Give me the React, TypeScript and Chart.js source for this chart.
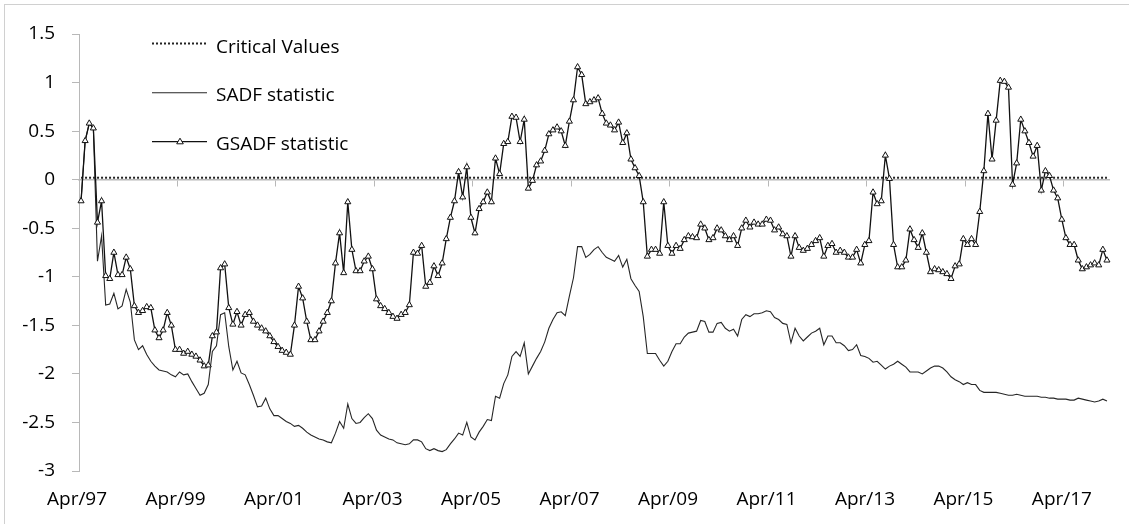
import React, { useEffect, useRef } from "react";
import { Chart, registerables } from "chart.js";

Chart.register(...registerables);

// ---------- categories (monthly, Apr/97 .. Feb/18) ----------
const MONTH_NAMES = ["Jan", "Feb", "Mar", "Apr", "May", "Jun", "Jul", "Aug", "Sep", "Oct", "Nov", "Dec"];
const FIRST_YEAR = 1997;
const FIRST_MONTH = 3; // April
const MONTH_COUNT = 251;
const categories: string[] = Array.from({ length: MONTH_COUNT }, (_, i) => {
  const m = FIRST_MONTH + i;
  const y = FIRST_YEAR + Math.floor(m / 12);
  return `${MONTH_NAMES[m % 12]}/${String(y % 100).padStart(2, "0")}`;
});
const LABEL_EVERY = 24;

// ---------- y axis ----------
const Y_MIN = -3;
const Y_MAX = 1.5;
const Y_STEP = 0.5;

// ---------- series ----------
const gsadf: number[] = [
  -0.22, 0.40, 0.58, 0.53, -0.44, -0.22, -0.99, -1.02, -0.75, -0.98,
  -0.98, -0.80, -0.92, -1.30, -1.37, -1.35, -1.31, -1.32, -1.55, -1.63,
  -1.55, -1.37, -1.50, -1.75, -1.75, -1.79, -1.77, -1.80, -1.82, -1.86,
  -1.92, -1.91, -1.61, -1.57, -0.91, -0.87, -1.32, -1.49, -1.36, -1.50,
  -1.39, -1.37, -1.46, -1.50, -1.53, -1.56, -1.61, -1.67, -1.72, -1.76,
  -1.78, -1.80, -1.50, -1.10, -1.22, -1.46, -1.65, -1.65, -1.56, -1.46,
  -1.37, -1.25, -0.86, -0.55, -0.96, -0.23, -0.72, -0.94, -0.94, -0.84,
  -0.79, -0.92, -1.23, -1.30, -1.33, -1.37, -1.41, -1.43, -1.39, -1.37,
  -1.29, -0.75, -0.76, -0.68, -1.10, -1.06, -0.89, -0.99, -0.86, -0.61,
  -0.39, -0.22, 0.08, -0.18, 0.13, -0.39, -0.55, -0.30, -0.23, -0.13,
  -0.23, 0.22, 0.06, 0.37, 0.39, 0.65, 0.64, 0.39, 0.62, -0.09,
  -0.01, 0.15, 0.19, 0.30, 0.47, 0.51, 0.54, 0.50, 0.35, 0.60,
  0.82, 1.16, 1.08, 0.78, 0.80, 0.82, 0.84, 0.68, 0.58, 0.56,
  0.51, 0.59, 0.38, 0.48, 0.21, 0.12, 0.04, -0.23, -0.79, -0.72,
  -0.72, -0.76, -0.23, -0.68, -0.76, -0.68, -0.71, -0.62, -0.58, -0.59,
  -0.60, -0.46, -0.50, -0.62, -0.60, -0.50, -0.52, -0.58, -0.62, -0.58,
  -0.68, -0.50, -0.42, -0.49, -0.44, -0.46, -0.46, -0.41, -0.42, -0.52,
  -0.49, -0.56, -0.58, -0.79, -0.58, -0.70, -0.73, -0.71, -0.67, -0.63,
  -0.60, -0.79, -0.68, -0.66, -0.75, -0.73, -0.75, -0.80, -0.80, -0.72,
  -0.86, -0.67, -0.63, -0.13, -0.25, -0.22, 0.25, 0.01, -0.67, -0.90,
  -0.90, -0.83, -0.51, -0.62, -0.70, -0.55, -0.75, -0.95, -0.92, -0.93,
  -0.95, -0.97, -1.02, -0.89, -0.87, -0.61, -0.67, -0.61, -0.67, -0.33,
  0.09, 0.68, 0.21, 0.61, 1.02, 1.01, 0.95, -0.05, 0.17, 0.62,
  0.50, 0.38, 0.24, 0.35, -0.11, 0.09, 0.04, -0.11, -0.19, -0.41,
  -0.60, -0.67, -0.67, -0.83, -0.92, -0.90, -0.88, -0.86, -0.88, -0.72,
  -0.83,
];

const sadf: number[] = [
  -0.22, 0.40, 0.58, 0.53, -0.84, -0.58, -1.29, -1.28, -1.17, -1.33,
  -1.30, -1.13, -1.26, -1.65, -1.75, -1.71, -1.80, -1.87, -1.92, -1.96,
  -1.97, -1.98, -2.01, -2.03, -1.98, -2.01, -2.00, -2.08, -2.15, -2.22,
  -2.20, -2.11, -1.77, -1.71, -1.39, -1.37, -1.72, -1.96, -1.87, -1.99,
  -2.01, -2.11, -2.22, -2.34, -2.33, -2.25, -2.36, -2.43, -2.43, -2.46,
  -2.49, -2.51, -2.54, -2.53, -2.56, -2.60, -2.63, -2.65, -2.67, -2.68,
  -2.70, -2.71, -2.61, -2.49, -2.56, -2.31, -2.46, -2.51, -2.50, -2.45,
  -2.41, -2.46, -2.58, -2.63, -2.65, -2.67, -2.68, -2.71, -2.72, -2.73,
  -2.72, -2.68, -2.68, -2.70, -2.77, -2.79, -2.77, -2.79, -2.80, -2.78,
  -2.72, -2.67, -2.61, -2.63, -2.50, -2.65, -2.68, -2.60, -2.54, -2.47,
  -2.48, -2.23, -2.25, -2.10, -2.01, -1.82, -1.77, -1.82, -1.68, -2.00,
  -1.92, -1.84, -1.77, -1.67, -1.53, -1.44, -1.37, -1.36, -1.40, -1.20,
  -1.01, -0.69, -0.69, -0.80, -0.77, -0.72, -0.69, -0.75, -0.80, -0.82,
  -0.84, -0.78, -0.90, -0.82, -1.02, -1.09, -1.15, -1.41, -1.79, -1.79,
  -1.79, -1.86, -1.92, -1.87, -1.77, -1.69, -1.69, -1.62, -1.58, -1.57,
  -1.56, -1.45, -1.46, -1.57, -1.57, -1.48, -1.47, -1.53, -1.56, -1.54,
  -1.61, -1.44, -1.39, -1.41, -1.38, -1.38, -1.37, -1.35, -1.36, -1.42,
  -1.44, -1.48, -1.49, -1.68, -1.53, -1.61, -1.66, -1.62, -1.58, -1.56,
  -1.53, -1.70, -1.61, -1.61, -1.68, -1.68, -1.71, -1.76, -1.75, -1.70,
  -1.81, -1.82, -1.84, -1.88, -1.87, -1.91, -1.95, -1.92, -1.90, -1.87,
  -1.90, -1.93, -1.98, -1.98, -1.98, -2.00, -1.97, -1.94, -1.92, -1.92,
  -1.94, -1.98, -2.03, -2.06, -2.08, -2.11, -2.09, -2.11, -2.11, -2.17,
  -2.19, -2.19, -2.19, -2.19, -2.20, -2.21, -2.22, -2.22, -2.21, -2.22,
  -2.23, -2.23, -2.23, -2.23, -2.24, -2.24, -2.25, -2.25, -2.26, -2.26,
  -2.26, -2.27, -2.27, -2.25, -2.26, -2.27, -2.28, -2.29, -2.28, -2.26,
  -2.28,
];

// critical value line: flat, read at the first and the last month
const criticalValues: number[] = [0.02, 0.02];

const FONT_FAMILY = "'Open Sans', 'DejaVu Sans', sans-serif";
const FONT_SIZE = 19;
const AXIS_GREY = "#b8b8b8";

export default function App() {
  const canvasRef = useRef<HTMLCanvasElement | null>(null);

  useEffect(() => {
    const canvas = canvasRef.current;
    if (!canvas) return;
    const first = categories[0];
    const last = categories[categories.length - 1];

    const chart = new Chart(canvas, {
      type: "line",
      data: {
        labels: categories,
        datasets: [
          {
            label: "GSADF statistic",
            data: gsadf,
            borderColor: "#111111",
            borderWidth: 1.3,
            pointStyle: "triangle",
            pointRadius: 3.5,
            pointBackgroundColor: "#ffffff",
            pointBorderColor: "#111111",
            pointBorderWidth: 1,
            tension: 0,
            xAxisID: "x",
            yAxisID: "y",
          },
          {
            label: "Critical Values",
            data: [
              { x: first, y: criticalValues[0] },
              { x: last, y: criticalValues[1] },
            ] as any,
            borderColor: "#222222",
            borderWidth: 2,
            borderDash: [2, 2],
            borderCapStyle: "butt",
            pointRadius: 0,
            tension: 0,
            xAxisID: "x",
            yAxisID: "y",
          },
          {
            label: "SADF statistic",
            data: sadf,
            borderColor: "#262626",
            borderWidth: 1.1,
            pointRadius: 0,
            tension: 0,
            xAxisID: "x",
            yAxisID: "y",
          },
        ],
      },
      options: {
        responsive: false,
        animation: false,
        events: [],
        devicePixelRatio: 1,
        layout: { padding: { left: 0, right: 20, top: 34, bottom: 0 } },
        plugins: {
          legend: { display: false },
          tooltip: { enabled: false },
        },
        scales: {
          y: {
            type: "linear",
            position: "left",
            min: Y_MIN,
            max: Y_MAX,
            afterFit: (s: any) => {
              s.width = 79;
            },
            ticks: {
              stepSize: Y_STEP,
              padding: 17,
              color: "#000000",
              font: { family: FONT_FAMILY, size: FONT_SIZE },
              callback: (v: any) => String(Math.round(Number(v) * 10) / 10),
            },
            grid: {
              drawOnChartArea: false,
              drawTicks: true,
              tickLength: 7,
              color: AXIS_GREY,
            },
            border: { display: true, color: AXIS_GREY, width: 1 },
          },
          x: {
            type: "category",
            position: { y: 0 } as any,
            offset: true,
            afterFit: (s: any) => {
              s.height = 0;
            },
            ticks: { display: false, autoSkip: false },
            grid: {
              offset: true,
              drawOnChartArea: false,
              drawTicks: true,
              tickLength: 6,
              color: (ctx: any) => (ctx.index % LABEL_EVERY === 0 ? AXIS_GREY : "rgba(0,0,0,0)"),
            },
            border: { display: true, color: AXIS_GREY, width: 1.5 },
          },
          x2: {
            type: "category",
            axis: "x",
            position: "bottom",
            offset: true,
            afterFit: (s: any) => {
              s.height = 53;
            },
            ticks: {
              autoSkip: false,
              maxRotation: 0,
              minRotation: 0,
              padding: 17,
              labelOffset: -4,
              color: "#000000",
              font: { family: FONT_FAMILY, size: FONT_SIZE },
              callback: (_v: any, i: number) => (i % LABEL_EVERY === 0 ? categories[i] : ""),
            },
            grid: { display: false, drawTicks: false },
            border: { display: false },
          },
        },
      } as any,
    });

    return () => {
      chart.destroy();
    };
  }, []);

  const textStyle: React.CSSProperties = {
    position: "absolute",
    left: 216,
    fontFamily: FONT_FAMILY,
    fontSize: FONT_SIZE,
    lineHeight: "20px",
    color: "#000",
    whiteSpace: "nowrap",
  };

  return (
    <div
      style={{
        position: "fixed",
        left: 0,
        top: 0,
        width: 1129,
        height: 524,
        background: "#ffffff",
        overflow: "hidden",
      }}
    >
      <div
        style={{
          position: "absolute",
          left: 4,
          top: 4,
          right: 0,
          bottom: 0,
          borderLeft: "1px solid #d0d0d0",
          borderTop: "1px solid #d0d0d0",
        }}
      />
      <canvas
        ref={canvasRef}
        width={1129}
        height={524}
        style={{ position: "absolute", left: 0, top: 0, width: 1129, height: 524 }}
      />
      <svg
        width={70}
        height={130}
        style={{ position: "absolute", left: 145, top: 30 }}
      >
        <line x1={7} x2={62} y1={13.5} y2={13.5} stroke="#222" strokeWidth={2} strokeDasharray="2 2" />
        <line x1={7} x2={62} y1={62.7} y2={62.7} stroke="#262626" strokeWidth={1.1} />
        <line x1={7} x2={62} y1={111.7} y2={111.7} stroke="#111" strokeWidth={1.3} />
        <polygon points="35,108.2 38.3,113.8 31.7,113.8" fill="#fff" stroke="#111" strokeWidth={1} />
      </svg>
      <div style={{ ...textStyle, top: 35.5 }}>Critical Values</div>
      <div style={{ ...textStyle, top: 84.3 }}>SADF statistic</div>
      <div style={{ ...textStyle, top: 133.3 }}>GSADF statistic</div>
    </div>
  );
}
